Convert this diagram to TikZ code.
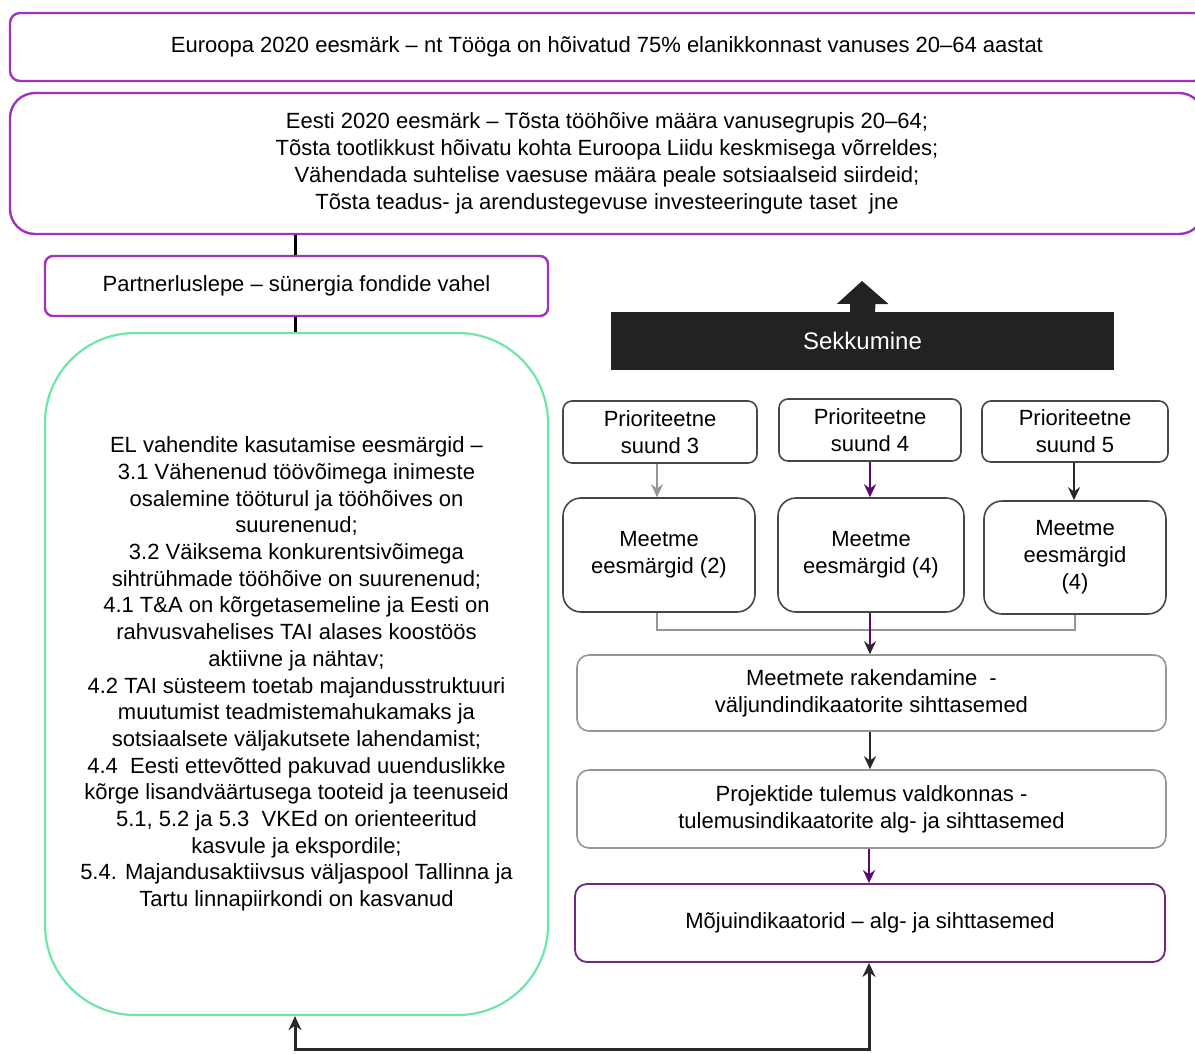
\documentclass[tikz,border=0pt]{standalone}
\usepackage{fontspec}
\setmainfont{Liberation Sans}
\usetikzlibrary{arrows.meta}
\definecolor{violetb}{RGB}{160,50,190}
\definecolor{mint}{RGB}{110,230,170}
\definecolor{darkb}{RGB}{70,70,70}
\definecolor{greyb}{RGB}{150,150,150}
\definecolor{mojub}{RGB}{110,40,130}
\definecolor{sekfill}{RGB}{34,34,34}
\definecolor{greyarr}{RGB}{150,150,150}
\definecolor{purparr}{RGB}{90,10,110}
\definecolor{darkarr}{RGB}{40,40,40}
\tikzset{
  x=1pt,y=-1pt,
  every node/.style={inner sep=0pt,align=center,font=\fontsize{22}{27}\selectfont},
  topbox/.style={draw=violetb,line width=2.4pt,rounded corners=10pt},
  greenbox/.style={draw=mint,line width=2.2pt,rounded corners=90pt,font=\fontsize{22}{26.7}\selectfont},
  darkbox/.style={draw=darkb,line width=1.6pt,rounded corners=9pt},
  mbox/.style={draw=darkb,line width=1.6pt,rounded corners=18pt},
  greybox/.style={draw=greyb,line width=1.6pt,rounded corners=12pt},
  mojubox/.style={draw=mojub,line width=1.8pt,rounded corners=12pt},
  conn/.style={line width=3pt,draw=black},
  arr/.style={line width=2.4pt},
}
\begin{document}
\begin{tikzpicture}
\useasboundingbox (0,0) rectangle (1195,1053);
% top boxes
\node[topbox,minimum width=1194,minimum height=68] (eu) at (607,47)
  {Euroopa 2020 eesmärk – nt Tööga on hõivatud 75\% elanikkonnast vanuses 20–64 aastat};
\node[topbox,rounded corners=25pt,minimum width=1194,minimum height=141] (ee) at (607,163.5)
  {Eesti 2020 eesmärk – Tõsta tööhõive määra vanusegrupis 20–64;\\
   Tõsta tootlikkust hõivatu kohta Euroopa Liidu keskmisega võrreldes;\\
   Vähendada suhtelise vaesuse määra peale sotsiaalseid siirdeid;\\
   Tõsta teadus- ja arendustegevuse investeeringute taset\ \ jne};
\node[topbox,rounded corners=8pt,minimum width=503,minimum height=60] (pl) at (296.5,286)
  {Partnerluslepe – sünergia fondide vahel};
\node[greenbox,minimum width=503,minimum height=682] (el) at (296.5,674)
  {EL vahendite kasutamise eesmärgid –\\
   3.1 Vähenenud töövõimega inimeste\\
   osalemine tööturul ja tööhõives on\\
   suurenenud;\\
   3.2 Väiksema konkurentsivõimega\\
   sihtrühmade tööhõive on suurenenud;\\
   4.1 T\&A on kõrgetasemeline ja Eesti on\\
   rahvusvahelises TAI alases koostöös\\
   aktiivne ja nähtav;\\
   4.2 TAI süsteem toetab majandusstruktuuri\\
   muutumist teadmistemahukamaks ja\\
   sotsiaalsete väljakutsete lahendamist;\\
   4.4\ \ Eesti ettevõtted pakuvad uuenduslikke\\
   kõrge lisandväärtusega tooteid ja teenuseid\\
   5.1, 5.2 ja 5.3\ \ VKEd on orienteeritud\\
   kasvule ja ekspordile;\\
   5.4. Majandusaktiivsus väljaspool Tallinna ja\\
   Tartu linnapiirkondi on kasvanud};
\draw[conn] (ee.south -| 295,0) -- (pl.north -| 295,0);
\draw[conn] (pl.south -| 295,0) -- (el.north -| 295,0);
% Sekkumine
\node[fill=sekfill,text=white,minimum width=503,minimum height=58,font=\fontsize{24}{28}\selectfont] (sek) at (862.5,341) {Sekkumine};
\fill[sekfill] ([xshift=-12.5pt]sek.north) -- ++(0,-8) -- ++(-13,0) -- (862,281) -- ([xshift=26pt]sek.north |- 0,304) -- ++(-13,0) -- ([xshift=12.5pt]sek.north) -- cycle;
% priority boxes
\node[darkbox,minimum width=194,minimum height=62] (p3) at (660,432) {Prioriteetne\\suund 3};
\node[darkbox,minimum width=182,minimum height=62] (p4) at (870,430) {Prioriteetne\\suund 4};
\node[darkbox,minimum width=186,minimum height=61] (p5) at (1075,431.5) {Prioriteetne\\suund 5};
\node[mbox,minimum width=192,minimum height=114] (m3) at (659,555) {Meetme\\eesmärgid (2)};
\node[mbox,minimum width=186,minimum height=114] (m4) at (871,555) {Meetme\\eesmärgid (4)};
\node[mbox,minimum width=182,minimum height=113] (m5) at (1075,557.5) {Meetme\\eesmärgid\\(4)};
\draw[arr,draw=greyarr,-{Stealth[length=13pt,width=12pt,color=greyarr]}] (p3.south -| 657,0) -- (m3.north -| 657,0);
\draw[arr,draw=purparr,-{Stealth[length=13pt,width=12pt,color=purparr]}] (p4.south -| 870,0) -- (m4.north -| 870,0);
\draw[arr,draw=darkarr,-{Stealth[length=13pt,width=12pt,color=darkarr]}] (p5.south -| 1074,0) -- (m5.north -| 1074,0);
% lower boxes
\node[greybox,minimum width=589,minimum height=76] (rak) at (871.5,693) {Meetmete rakendamine\ \ -\\väljundindikaatorite sihttasemed};
\node[greybox,minimum width=589,minimum height=78] (proj) at (871.5,809) {Projektide tulemus valdkonnas -\\tulemusindikaatorite alg- ja sihttasemed};
\node[mojubox,minimum width=590,minimum height=78] (moju) at (870,923) {Mõjuindikaatorid – alg- ja sihttasemed};
\draw[draw=greyarr,line width=2.4pt] (m3.south -| 657,0) -- (657,630) -- (1075,630) -- (m5.south -| 1075,0);
\draw[draw=purparr,line width=1.8pt,-{Stealth[length=13pt,width=12pt,color=darkarr]}] (m4.south -| 870,0) -- (rak.north -| 870,0);
\draw[arr,draw=darkarr,-{Stealth[length=13pt,width=12pt,color=darkarr]}] (rak.south -| 870,0) -- (proj.north -| 870,0);
\draw[arr,draw=purparr,-{Stealth[length=13pt,width=12pt,color=purparr]}] (proj.south -| 869,0) -- (moju.north -| 869,0);
% bottom feedback
\coordinate (bl) at (295,1049);
\coordinate (br) at (869,1049);
\draw[line width=3pt,draw=darkarr,{Stealth[length=14pt,width=13pt]}-{Stealth[length=14pt,width=13pt]}] (el.south -| bl) -- (bl) -- (br) -- (moju.south -| br);
\end{tikzpicture}
\end{document}
